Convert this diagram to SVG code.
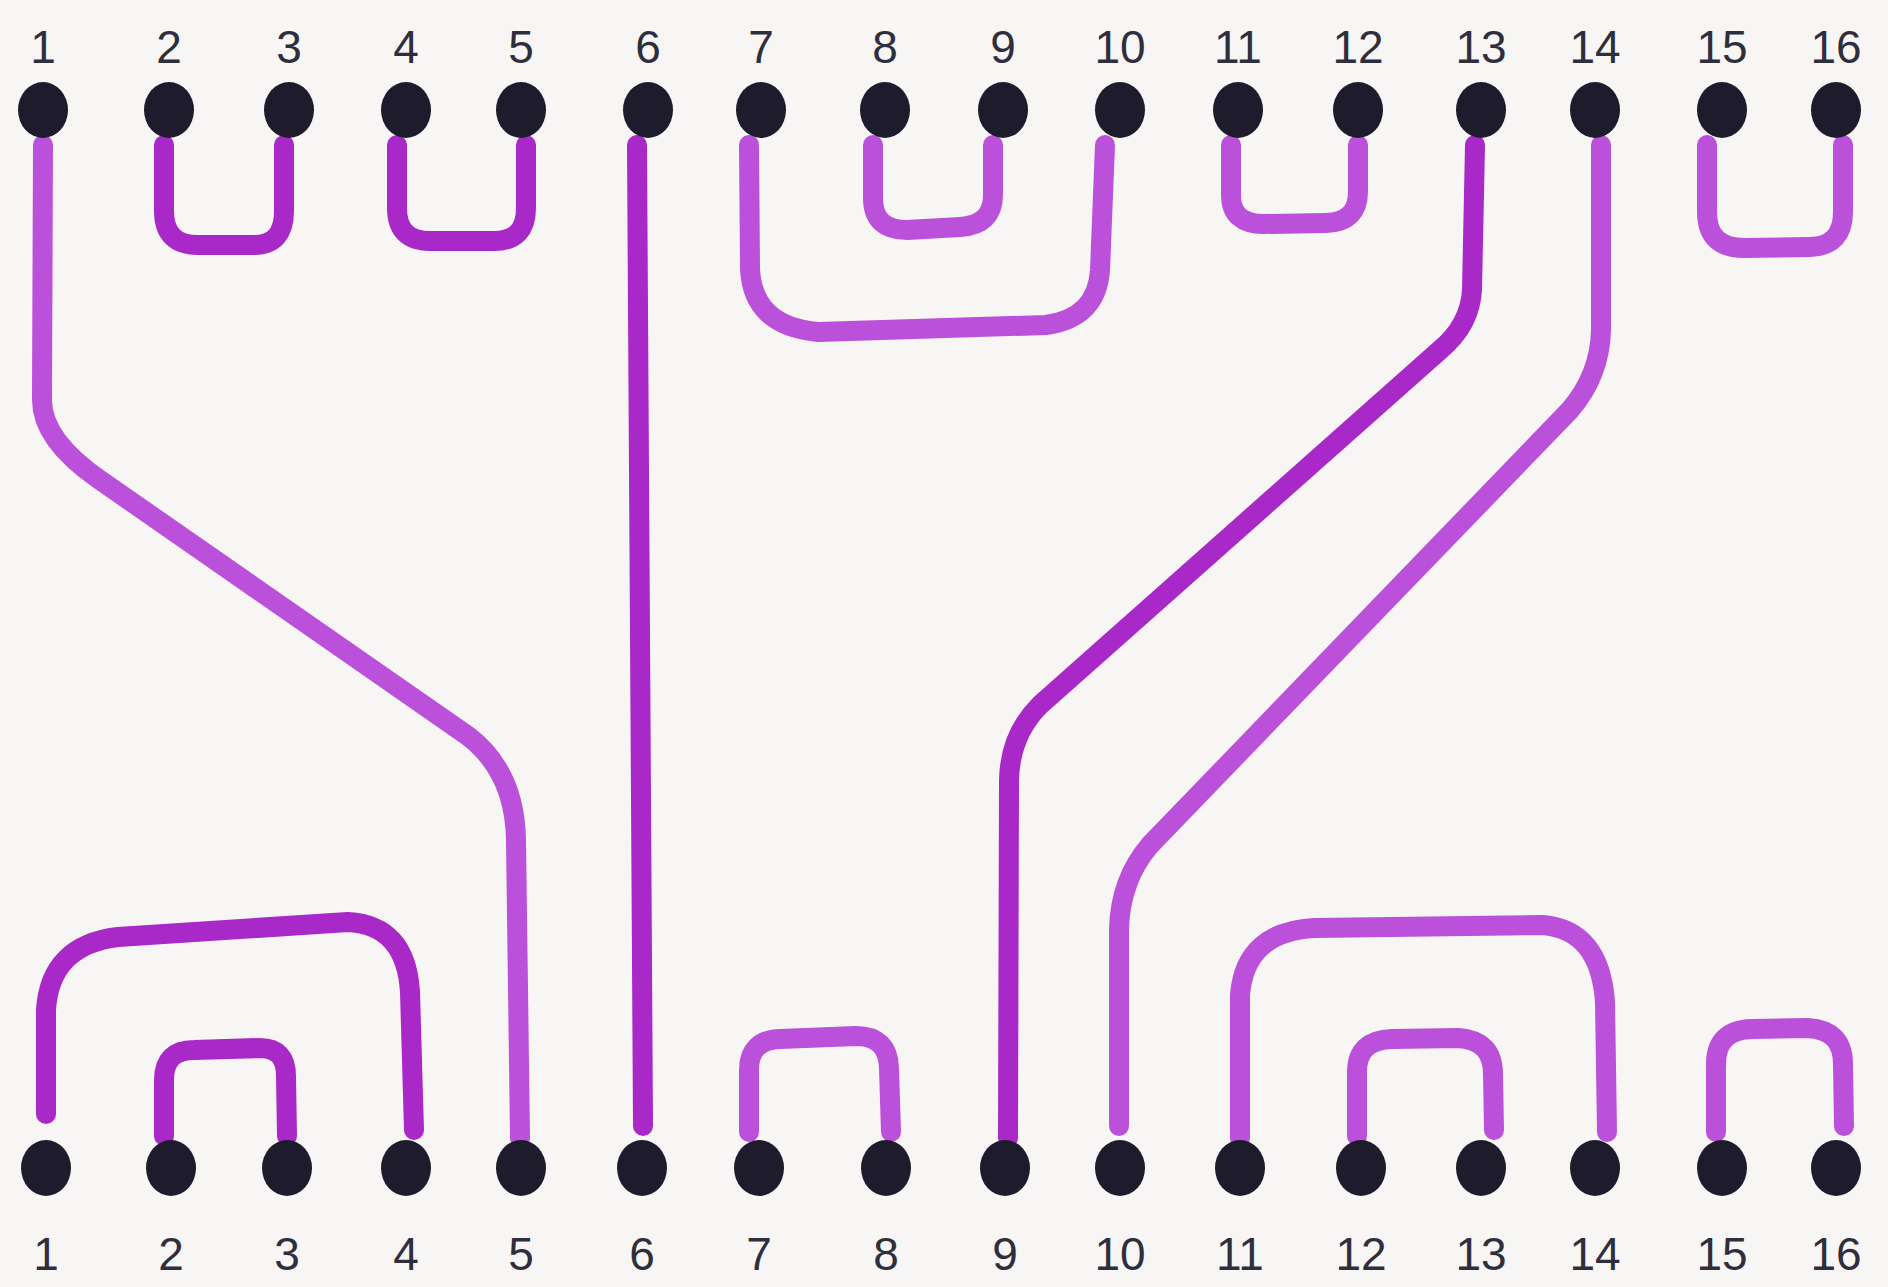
<svg xmlns="http://www.w3.org/2000/svg" width="1888" height="1287" viewBox="0 0 1888 1287">
<style>
.bg{fill:#f7f6f4}
.w{fill:none;stroke:#bb50da;stroke-width:20;stroke-linecap:round;stroke-linejoin:round}
.d{stroke:#a828c8}
.dot{fill:#1d1b2c}
.lbl{font-family:"Liberation Sans",Arial,sans-serif;font-size:46px;fill:#2e2e3c;text-anchor:middle}
</style>
<rect class="bg" x="0" y="0" width="1888" height="1287"/>
<g id="connectors">
<path class="w" d="M43,145 L42,400 Q42,440 100,480 L468,736 Q515,772 516,840 L520,1138"/>
<path class="w d" d="M164,145 L164,211 Q164,245 198,245 L254,245 Q284,245 284,211 L284,145"/>
<path class="w d" d="M397,145 L397,208 Q397,241 430,241 L494,241 Q526,241 526,208 L526,145"/>
<path class="w d" d="M637,145 L643,1126"/>
<path class="w" d="M749,145 L750,268 Q752,326 818,332 L1046,325 Q1097,318 1100,270 L1105,145"/>
<path class="w" d="M873,145 L873,198 Q873,230 907,230 L960,227 Q993,225 993,195 L993,145"/>
<path class="w" d="M1231,145 L1231,195 Q1231,224 1264,224 L1326,223 Q1358,222 1358,192 L1358,145"/>
<path class="w d" d="M1475,145 L1472,290 Q1470,325 1440,350 L1040,705 Q1010,735 1009,780 L1008,1138"/>
<path class="w" d="M1601,145 L1601,330 Q1600,375 1570,410 L1150,845 Q1120,880 1119,930 L1119,1126"/>
<path class="w" d="M1707,145 L1707,212 Q1707,248 1744,248 L1810,247 Q1843,246 1843,212 L1843,145"/>
<path class="w d" d="M46,1114 L46,1010 Q50,945 118,937 L348,922 Q406,925 410,992 L414,1130"/>
<path class="w d" d="M164,1136 L164,1080 Q164,1050 194,1050 L260,1048 Q286,1048 286,1076 L287,1136"/>
<path class="w" d="M749,1132 L749,1070 Q749,1040 780,1039 L856,1036 Q888,1036 889,1068 L891,1132"/>
<path class="w" d="M1240,1138 L1240,995 Q1245,932 1314,928 L1543,925 Q1600,930 1605,1002 L1607,1132"/>
<path class="w" d="M1357,1136 L1357,1072 Q1357,1040 1392,1039 L1458,1038 Q1493,1040 1493,1074 L1494,1130"/>
<path class="w" d="M1716,1132 L1716,1064 Q1716,1030 1752,1029 L1808,1028 Q1843,1030 1843,1064 L1844,1126"/>
</g>
<g id="top-pins">
<ellipse class="dot" cx="43" cy="110" rx="25" ry="28"/>
<ellipse class="dot" cx="169" cy="110" rx="25" ry="28"/>
<ellipse class="dot" cx="289" cy="110" rx="25" ry="28"/>
<ellipse class="dot" cx="406" cy="110" rx="25" ry="28"/>
<ellipse class="dot" cx="521" cy="110" rx="25" ry="28"/>
<ellipse class="dot" cx="648" cy="110" rx="25" ry="28"/>
<ellipse class="dot" cx="761" cy="110" rx="25" ry="28"/>
<ellipse class="dot" cx="885" cy="110" rx="25" ry="28"/>
<ellipse class="dot" cx="1003" cy="110" rx="25" ry="28"/>
<ellipse class="dot" cx="1120" cy="110" rx="25" ry="28"/>
<ellipse class="dot" cx="1238" cy="110" rx="25" ry="28"/>
<ellipse class="dot" cx="1358" cy="110" rx="25" ry="28"/>
<ellipse class="dot" cx="1481" cy="110" rx="25" ry="28"/>
<ellipse class="dot" cx="1595" cy="110" rx="25" ry="28"/>
<ellipse class="dot" cx="1722" cy="110" rx="25" ry="28"/>
<ellipse class="dot" cx="1836" cy="110" rx="25" ry="28"/>
</g>
<g id="bottom-pins">
<ellipse class="dot" cx="46" cy="1168" rx="25" ry="28"/>
<ellipse class="dot" cx="171" cy="1168" rx="25" ry="28"/>
<ellipse class="dot" cx="287" cy="1168" rx="25" ry="28"/>
<ellipse class="dot" cx="406" cy="1168" rx="25" ry="28"/>
<ellipse class="dot" cx="521" cy="1168" rx="25" ry="28"/>
<ellipse class="dot" cx="642" cy="1168" rx="25" ry="28"/>
<ellipse class="dot" cx="759" cy="1168" rx="25" ry="28"/>
<ellipse class="dot" cx="886" cy="1168" rx="25" ry="28"/>
<ellipse class="dot" cx="1005" cy="1168" rx="25" ry="28"/>
<ellipse class="dot" cx="1120" cy="1168" rx="25" ry="28"/>
<ellipse class="dot" cx="1240" cy="1168" rx="25" ry="28"/>
<ellipse class="dot" cx="1361" cy="1168" rx="25" ry="28"/>
<ellipse class="dot" cx="1481" cy="1168" rx="25" ry="28"/>
<ellipse class="dot" cx="1595" cy="1168" rx="25" ry="28"/>
<ellipse class="dot" cx="1722" cy="1168" rx="25" ry="28"/>
<ellipse class="dot" cx="1836" cy="1168" rx="25" ry="28"/>
</g>
<g id="top-labels">
<text class="lbl" x="43" y="63">1</text>
<text class="lbl" x="169" y="63">2</text>
<text class="lbl" x="289" y="63">3</text>
<text class="lbl" x="406" y="63">4</text>
<text class="lbl" x="521" y="63">5</text>
<text class="lbl" x="648" y="63">6</text>
<text class="lbl" x="761" y="63">7</text>
<text class="lbl" x="885" y="63">8</text>
<text class="lbl" x="1003" y="63">9</text>
<text class="lbl" x="1120" y="63">10</text>
<text class="lbl" x="1238" y="63">11</text>
<text class="lbl" x="1358" y="63">12</text>
<text class="lbl" x="1481" y="63">13</text>
<text class="lbl" x="1595" y="63">14</text>
<text class="lbl" x="1722" y="63">15</text>
<text class="lbl" x="1836" y="63">16</text>
</g>
<g id="bottom-labels">
<text class="lbl" x="46" y="1270">1</text>
<text class="lbl" x="171" y="1270">2</text>
<text class="lbl" x="287" y="1270">3</text>
<text class="lbl" x="406" y="1270">4</text>
<text class="lbl" x="521" y="1270">5</text>
<text class="lbl" x="642" y="1270">6</text>
<text class="lbl" x="759" y="1270">7</text>
<text class="lbl" x="886" y="1270">8</text>
<text class="lbl" x="1005" y="1270">9</text>
<text class="lbl" x="1120" y="1270">10</text>
<text class="lbl" x="1240" y="1270">11</text>
<text class="lbl" x="1361" y="1270">12</text>
<text class="lbl" x="1481" y="1270">13</text>
<text class="lbl" x="1595" y="1270">14</text>
<text class="lbl" x="1722" y="1270">15</text>
<text class="lbl" x="1836" y="1270">16</text>
</g>
</svg>
